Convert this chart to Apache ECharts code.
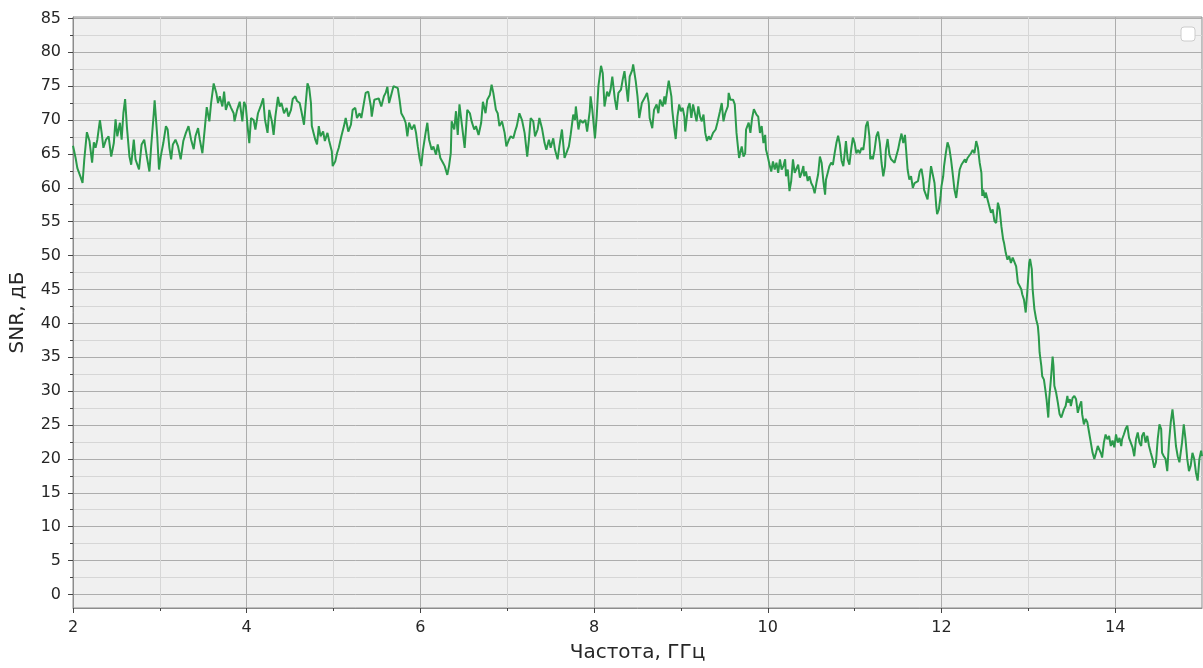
<!DOCTYPE html>
<html><head><meta charset="utf-8">
<script src="https://cdn.jsdelivr.net/npm/echarts@6/dist/echarts.min.js"></script>
<style>html,body{margin:0;padding:0;background:#fff}#c{width:1203px;height:668px}</style>
</head><body><div id="c"></div>
<script>
const xMajorTicks = [2, 4, 6, 8, 10, 12, 14];
const xMinorTicks = [3, 5, 7, 9, 11, 13];
const yMajorTicks = [0, 5, 10, 15, 20, 25, 30, 35, 40, 45, 50, 55, 60, 65, 70, 75, 80, 85];
const yMinorTicks = [2.5, 7.5, 12.5, 17.5, 22.5, 27.5, 32.5, 37.5, 42.5, 47.5, 52.5, 57.5, 62.5, 67.5, 72.5, 77.5, 82.5];

// [frequency GHz, SNR dB]
const snrTrace = [
[2.00,66.2],[2.03,64.4],[2.05,62.9],[2.07,62.7],[2.09,61.5],[2.11,60.7],[2.13,64.2],[2.16,68.2],[2.19,66.9],[2.22,63.7],[2.24,66.7],[2.26,65.9],[2.28,67.1],[2.31,70.0],[2.33,68.1],[2.35,65.9],[2.38,67.1],[2.41,67.6],[2.44,64.6],[2.47,66.6],[2.49,70.1],[2.51,67.6],[2.54,69.6],[2.56,67.1],[2.58,71.0],[2.60,73.1],[2.62,69.1],[2.65,64.6],[2.67,63.4],[2.70,67.1],[2.72,64.2],[2.76,62.7],[2.79,66.4],[2.82,67.1],[2.85,64.6],[2.88,62.4],[2.90,66.1],[2.93,71.0],[2.94,72.9],[2.97,67.6],[2.99,62.7],[3.01,64.6],[3.04,66.6],[3.07,69.1],[3.09,68.6],[3.11,65.9],[3.13,64.2],[3.15,66.4],[3.18,67.1],[3.21,66.1],[3.24,64.2],[3.27,66.9],[3.30,68.1],[3.33,69.1],[3.36,67.1],[3.39,65.7],[3.41,67.6],[3.44,68.8],[3.46,67.1],[3.49,65.1],[3.52,69.1],[3.54,71.9],[3.57,69.8],[3.59,72.5],[3.62,75.4],[3.65,74.0],[3.67,72.5],[3.69,73.5],[3.72,72.0],[3.74,74.2],[3.76,71.5],[3.79,72.7],[3.82,71.8],[3.85,71.0],[3.86,69.8],[3.89,71.5],[3.92,72.7],[3.95,69.8],[3.97,72.7],[3.99,72.0],[4.01,69.1],[4.03,66.6],[4.05,70.3],[4.08,70.0],
[4.10,68.6],[4.13,71.0],[4.16,72.0],[4.19,73.2],[4.21,70.1],[4.24,68.1],[4.26,71.5],[4.29,69.8],[4.31,67.8],[4.33,70.5],[4.36,73.4],[4.38,72.0],[4.40,72.5],[4.43,71.0],[4.46,71.8],[4.48,70.5],[4.51,71.5],[4.53,73.1],[4.56,73.5],[4.58,72.8],[4.61,72.5],[4.63,71.3],[4.66,69.3],[4.68,72.5],[4.70,75.4],[4.72,74.7],[4.74,72.5],[4.75,69.1],[4.77,68.1],[4.79,67.1],[4.81,66.4],[4.83,69.1],[4.85,67.6],[4.88,68.3],[4.90,66.9],[4.93,68.1],[4.95,66.9],[4.98,65.4],[4.99,63.2],[5.02,63.9],[5.04,65.1],[5.06,65.9],[5.09,67.6],[5.12,69.1],[5.14,70.3],[5.17,68.3],[5.20,69.3],[5.22,71.5],[5.25,71.8],[5.27,70.3],[5.30,71.0],[5.32,70.3],[5.34,71.8],[5.37,74.0],[5.40,74.2],[5.43,72.0],[5.44,70.5],[5.47,73.0],[5.49,72.8],[5.52,73.2],[5.55,72.0],[5.58,73.5],[5.60,74.0],[5.62,74.9],[5.64,72.5],[5.67,74.0],[5.69,75.0],[5.71,75.0],[5.74,74.7],[5.76,73.0],[5.78,71.0],[5.81,70.3],[5.83,69.6],[5.85,67.6],[5.87,69.6],[5.90,68.6],[5.93,69.3],[5.95,68.1],[5.97,66.1],[5.99,64.4],[6.01,63.2],[6.03,65.6],[6.06,68.1],[6.08,69.6],[6.10,67.1],[6.13,65.6],[6.15,66.1],[6.18,64.9],[6.20,66.4],[6.23,64.4],[6.26,63.7],[6.28,63.2],[6.31,61.9],[6.33,63.2],
[6.35,65.1],[6.36,69.8],[6.39,68.6],[6.41,71.3],[6.43,67.8],[6.45,72.3],[6.48,69.1],[6.51,65.9],[6.53,69.6],[6.54,71.5],[6.57,71.0],[6.59,69.8],[6.62,68.6],[6.64,69.1],[6.67,67.8],[6.70,69.6],[6.72,72.7],[6.75,71.0],[6.77,73.0],[6.80,73.7],[6.82,75.2],[6.84,74.0],[6.87,71.5],[6.89,71.0],[6.91,69.1],[6.94,69.8],[6.97,68.1],[6.99,66.1],[7.02,67.1],[7.04,67.6],[7.07,67.3],[7.09,68.3],[7.11,69.1],[7.14,71.0],[7.17,70.0],[7.20,68.1],[7.23,64.6],[7.25,67.1],[7.27,70.3],[7.30,69.8],[7.32,67.6],[7.35,68.6],[7.37,70.3],[7.40,68.8],[7.43,66.6],[7.45,65.6],[7.48,67.1],[7.50,65.9],[7.53,67.3],[7.55,65.6],[7.58,64.2],[7.60,66.1],[7.63,68.6],[7.66,64.4],[7.68,64.6],[7.71,66.1],[7.73,67.8],[7.76,70.8],[7.78,70.0],[7.79,72.0],[7.82,68.6],[7.84,70.0],[7.87,69.6],[7.90,70.0],[7.92,68.3],[7.95,71.3],[7.96,73.5],[7.98,71.5],[8.01,67.3],[8.03,70.5],[8.05,75.0],[8.08,78.0],[8.10,76.9],[8.12,72.0],[8.15,74.2],[8.17,73.5],[8.19,74.5],[8.21,76.4],[8.24,73.0],[8.26,71.5],[8.28,74.0],[8.31,74.5],[8.33,76.0],[8.35,77.2],[8.37,75.0],[8.39,72.7],[8.41,76.4],[8.44,77.4],[8.45,78.2],[8.48,75.7],[8.50,73.5],[8.52,70.3],[8.55,72.5],[8.58,73.2],
[8.61,74.0],[8.63,72.5],[8.64,70.3],[8.67,68.8],[8.69,71.5],[8.72,72.3],[8.74,71.0],[8.76,73.0],[8.79,72.0],[8.81,73.5],[8.82,72.3],[8.85,75.0],[8.86,75.8],[8.89,73.5],[8.90,71.5],[8.92,69.1],[8.94,67.2],[8.96,70.5],[8.98,72.3],[9.00,71.3],[9.02,71.8],[9.04,70.5],[9.05,68.3],[9.08,71.8],[9.10,72.5],[9.12,70.3],[9.14,72.3],[9.16,72.5],[9.18,69.8],[9.20,72.0],[9.22,70.5],[9.24,69.8],[9.26,70.8],[9.28,68.1],[9.30,66.9],[9.32,67.6],[9.34,67.1],[9.37,68.1],[9.40,68.6],[9.42,69.6],[9.45,71.3],[9.47,72.5],[9.49,69.8],[9.51,71.0],[9.54,72.0],[9.55,74.0],[9.57,73.0],[9.60,73.0],[9.62,72.3],[9.64,68.1],[9.66,65.6],[9.67,64.4],[9.70,66.1],[9.72,64.6],[9.74,65.1],[9.75,68.6],[9.78,69.6],[9.80,68.1],[9.82,70.3],[9.84,71.6],[9.87,70.8],[9.89,70.5],[9.91,68.1],[9.93,69.1],[9.95,66.6],[9.97,67.8],[9.98,65.6],[10.00,64.6],[10.02,63.4],[10.04,62.4],[10.06,63.9],[10.08,62.7],[10.10,63.7],[10.12,62.2],[10.14,64.2],[10.16,62.7],[10.18,63.2],[10.20,64.2],[10.21,61.7],[10.23,62.7],[10.25,59.5],[10.27,61.0],[10.29,64.2],[10.31,62.2],[10.33,62.0],[10.35,63.4],[10.37,61.5],[10.39,62.2],[10.41,63.2],[10.42,61.7],[10.44,62.4],[10.46,61.0],[10.48,61.7],[10.50,60.7],[10.52,60.2],[10.54,59.2],[10.56,60.7],[10.58,62.0],[10.60,64.6],[10.62,63.7],[10.64,61.0],[10.66,59.0],[10.67,61.2],[10.69,62.2],[10.71,63.2],[10.73,63.7],[10.75,63.4],[10.77,65.1],[10.79,66.6],[10.81,67.7],
[10.83,66.4],[10.85,64.0],[10.87,63.2],[10.89,65.6],[10.90,66.9],[10.92,64.2],[10.94,63.4],[10.96,65.6],[10.98,67.4],[11.00,66.6],[11.02,65.1],[11.04,65.6],[11.06,65.1],[11.08,65.9],[11.10,65.6],[11.12,67.6],[11.13,69.1],[11.15,69.8],[11.17,67.6],[11.18,64.2],[11.20,64.7],[11.21,64.2],[11.23,65.6],[11.25,67.6],[11.27,68.3],[11.29,66.6],[11.31,63.7],[11.33,61.7],[11.35,63.2],[11.36,65.6],[11.38,67.2],[11.40,64.9],[11.42,64.2],[11.44,64.4],[11.46,63.7],[11.48,64.7],[11.50,65.6],[11.52,66.9],[11.54,68.0],[11.56,66.6],[11.58,67.8],[11.59,66.1],[11.61,62.7],[11.63,61.2],[11.65,61.7],[11.67,60.0],[11.69,60.7],[11.71,60.5],[11.73,61.0],[11.75,62.4],[11.77,62.8],[11.79,61.2],[11.80,59.7],[11.82,59.0],[11.84,58.3],[11.86,60.7],[11.88,63.2],[11.90,63.4],[11.92,60.7],[11.94,57.3],[11.95,56.1],[11.97,56.8],[11.99,58.8],[12.00,60.2],[12.02,61.7],[12.03,63.2],[12.05,65.1],[12.07,66.7],[12.09,65.9],[12.11,64.2],[12.13,62.0],[12.15,59.7],[12.17,58.5],[12.19,60.7],[12.21,62.7],[12.23,63.4],[12.25,63.2],[12.27,64.2],[12.28,63.7],[12.30,64.4],[12.32,64.2],[12.34,65.1],[12.36,65.6],[12.38,65.1],[12.40,66.9],[12.42,65.9],[12.44,63.7],
[12.46,62.2],[12.47,58.8],[12.48,59.7],[12.50,58.5],[12.51,59.3],[12.53,58.3],[12.55,57.3],[12.57,56.3],[12.59,56.8],[12.61,55.1],[12.63,54.8],[12.65,57.8],[12.67,56.8],[12.69,54.3],[12.71,52.4],[12.72,51.9],[12.74,50.4],[12.76,49.4],[12.78,49.9],[12.80,48.9],[12.82,49.7],[12.84,49.9],[12.86,48.4],[12.88,46.0],[12.90,45.5],[12.92,45.0],[12.93,44.3],[12.95,43.5],[12.97,41.6],[12.99,45.0],[13.01,48.9],[13.02,49.5],[13.04,48.0],[13.05,45.0],
[13.07,42.1],[13.09,40.6],[13.11,39.6],[13.12,38.1],[13.13,35.7],[13.15,33.7],[13.16,32.2],[13.18,31.7],[13.20,29.8],[13.21,28.8],[13.23,26.1],[13.24,28.8],[13.26,31.7],[13.28,35.1],[13.29,33.7],[13.30,30.8],[13.32,29.8],[13.34,28.3],[13.36,26.6],[13.38,26.1],[13.40,25.9],[13.41,27.3],[13.43,27.8],[13.45,29.3],[13.46,28.3],[13.48,28.8],[13.49,27.8],[13.51,29.0],[13.53,29.3],[13.55,28.8],[13.57,26.8],[13.59,27.8],[13.61,28.5],[13.62,26.6],[13.64,25.1],[13.66,25.9],[13.68,25.4],[13.70,23.9],[13.72,22.4],[13.74,20.9],[13.76,20.0],[13.78,20.9],[13.80,21.9],[13.82,21.7],[13.84,20.7],[13.85,20.2],[13.87,22.4],[13.89,23.6],[13.91,22.9],[13.93,23.4],[13.95,21.9],[13.97,22.7],[13.99,21.7],[14.01,23.6],[14.03,22.4],[14.05,23.1],[14.07,21.9],[14.08,22.9],[14.10,23.6],[14.12,24.4],[14.14,24.9],[14.16,23.1],[14.18,22.4],[14.20,21.7],[14.22,20.4],[14.24,22.9],[14.26,23.9],[14.28,22.4],[14.30,21.9],[14.31,23.4],[14.33,23.9],[14.35,22.4],[14.37,23.4],[14.39,21.9],[14.41,20.9],[14.43,20.0],[14.45,18.7],[14.47,19.5],[14.49,22.9],[14.51,25.1],[14.53,24.4],[14.54,20.9],[14.56,20.4],[14.58,20.0],[14.60,18.2],[14.62,22.4],[14.64,25.4],[14.66,27.3],[14.68,24.9],[14.70,21.9],[14.72,20.4],[14.74,19.5],[14.76,19.5],[14.77,22.4],[14.79,25.1],[14.81,22.9],[14.83,20.0],[14.85,18.2],[14.87,19.0],[14.89,20.9],[14.91,20.0],[14.93,18.0],[14.95,16.8],[14.97,20.0],[14.99,21.2],[15.00,20.4]
];

const FONT = 'DejaVu Sans';
const chart = echarts.init(document.getElementById('c'), null, {renderer: 'canvas'});
chart.setOption({
  animation: false,
  backgroundColor: '#ffffff',
  grid: {left: 72, right: 1, top: 17, bottom: 59, show: true, backgroundColor: '#f0f0f0', borderColor: '#8c8c8c', borderWidth: 1},
  xAxis: [
    {type: 'value', min: 2, max: 15, position: 'bottom',
     axisLine: {show: true, onZero: false, lineStyle: {color: '#8c8c8c'}},
     axisTick: {show: true, customValues: xMajorTicks, length: 5, lineStyle: {color: '#444'}},
     axisLabel: {customValues: xMajorTicks, fontSize: 16, color: '#262626', fontFamily: FONT, margin: 12},
     splitLine: {show: true, lineStyle: {color: '#adadad', width: 1}},
     name: 'Частота, ГГц', nameLocation: 'middle', nameGap: 35,
     nameTextStyle: {fontSize: 20, color: '#262626', fontFamily: FONT}},
    {type: 'value', min: 2, max: 15, position: 'bottom',
     axisLine: {show: false, onZero: false},
     axisTick: {show: true, customValues: xMinorTicks, length: 3, lineStyle: {color: '#444'}},
     axisLabel: {show: false},
     splitLine: {show: true, lineStyle: {color: '#d6d6d6', width: 1}}}
  ],
  yAxis: [
    {type: 'value', min: -2, max: 85.2, position: 'left',
     axisLine: {show: true, onZero: false, lineStyle: {color: '#8c8c8c'}},
     axisTick: {show: true, customValues: yMajorTicks, length: 5, lineStyle: {color: '#444'}},
     axisLabel: {customValues: yMajorTicks, fontSize: 16, color: '#262626', fontFamily: FONT, margin: 12},
     splitLine: {show: true, lineStyle: {color: '#adadad', width: 1}},
     name: 'SNR, дБ', nameLocation: 'middle', nameGap: 45,
     nameTextStyle: {fontSize: 20, color: '#262626', fontFamily: FONT}},
    {type: 'value', min: -2, max: 85.2, position: 'left',
     axisLine: {show: false, onZero: false},
     axisTick: {show: true, customValues: yMinorTicks, length: 3, lineStyle: {color: '#444'}},
     axisLabel: {show: false},
     splitLine: {show: true, lineStyle: {color: '#d6d6d6', width: 1}}}
  ],
  graphic: [
    {type: 'rect', shape: {x: 1181, y: 27, width: 14, height: 14, r: 3},
     style: {fill: '#ffffff', stroke: '#cccccc', lineWidth: 1}, z: 100}
  ],
  series: [
    {type: 'line', xAxisIndex: 0, yAxisIndex: 0, data: snrTrace, showSymbol: false, symbol: 'none',
     lineStyle: {color: '#2b9a4b', width: 2}, z: 10}
  ]
});
</script>
</body></html>
